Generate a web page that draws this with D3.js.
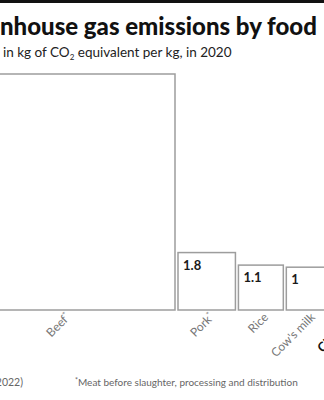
<!DOCTYPE html>
<html>
<head>
<meta charset="utf-8">
<script src="https://cdn.jsdelivr.net/npm/d3@7/dist/d3.min.js"></script>
<style>
  html, body { margin: 0; padding: 0; background: #fff; overflow: hidden; }
  svg { display: block; font-family: Lato, "Open Sans", sans-serif; }
</style>
</head>
<body>
<svg id="chart" width="324" height="400"></svg>
<script>
// Emissions per kg of food (kg CO2 equivalent), 2020
const categories = ["Beef*", "Pork*", "Rice", "Cow's milk", "Chicken*"];
const values = [30.4, 1.8, 1.1, 1, 0.7];
const valueLabels = ["30.4", "1.8", "1.1", "1", "0.7"];

const title = "Greenhouse gas emissions by food";
const subtitle = ["in kg of CO", "2", " equivalent per kg, in 2020"];
const source = "(2022)";
const footnote = "*Meat before slaughter, processing and distribution";

const svg = d3.select("#chart");
const W = 324, H = 400;

// top rule
svg.append("rect").attr("x", 0).attr("y", 0).attr("width", W).attr("height", 3).attr("fill", "#111");

// title: the row starts left of the visible frame
const t = svg.append("text")
  .attr("y", 35)
  .attr("font-size", 24)
  .attr("font-weight", 900)
  .attr("fill", "#111")
  .text(title);
const lead = t.node().getSubStringLength(0, 4);
t.attr("x", -lead);

// subtitle
const st = svg.append("text").attr("x", 3).attr("y", 57).attr("font-size", 13.5).attr("fill", "#222");
st.append("tspan").text(subtitle[0]);
st.append("tspan").attr("font-size", 8).attr("dy", 3).text(subtitle[1]);
st.append("tspan").attr("dy", -3).text(subtitle[2]);

// square-area scale: each box side grows with the square root of the value
const baseY = 310;
const gap = 3;
const side = d3.scaleSqrt().domain([0, d3.max(values)]).range([0, 236]);

let x = 175 - side(values[0]);
const boxes = values.map((v, i) => {
  const s = side(v);
  const b = { x, s, v, cat: categories[i], lab: valueLabels[i], i };
  x += s + gap;
  return b;
});

const g = svg.append("g");
g.selectAll("rect.box").data(boxes).join("rect")
  .attr("class", "box")
  .attr("x", d => d.x)
  .attr("y", d => baseY - d.s)
  .attr("width", d => d.s)
  .attr("height", d => d.s)
  .attr("fill", "#fff")
  .attr("stroke", "#9d9d9d")
  .attr("stroke-width", 1.5);

g.selectAll("text.val").data(boxes).join("text")
  .attr("class", "val")
  .attr("x", d => d.x + 5)
  .attr("y", d => baseY - d.s + 17)
  .attr("font-size", 13)
  .attr("font-weight", 700)
  .attr("fill", "#1a1a1a")
  .text(d => d.lab);

// rotated category labels, ending under the box centre
const lab = g.selectAll("text.cat").data(boxes).join("text")
  .attr("class", "cat")
  .attr("text-anchor", "end")
  .attr("font-size", d => d.i === 4 ? 13 : 12)
  .attr("fill", d => d.i === 4 ? "#111" : "#777")
  .attr("font-weight", d => d.i === 4 ? 700 : 400)
  .attr("transform", d => `translate(${d.x + d.s / 2 + (d.i === 0 ? 14 : 8)},${baseY + 8}) rotate(-45)`);
lab.each(function(d) {
  const el = d3.select(this);
  const star = d.cat.endsWith("*");
  el.append("tspan").text(star ? d.cat.slice(0, -1) : d.cat);
  if (star) el.append("tspan").attr("font-size", 8).attr("dy", -4).text("*");
});

// footer
svg.append("text").attr("x", 23).attr("y", 386).attr("text-anchor", "end")
  .attr("font-size", 10.5).attr("fill", "#666").text(source);
const fn = svg.append("text").attr("x", 75).attr("y", 386).attr("font-size", 10).attr("fill", "#666");
fn.append("tspan").attr("font-size", 7).attr("dy", -3).text("*");
fn.append("tspan").attr("dy", 3).text(footnote.slice(1));
</script>
</body>
</html>
